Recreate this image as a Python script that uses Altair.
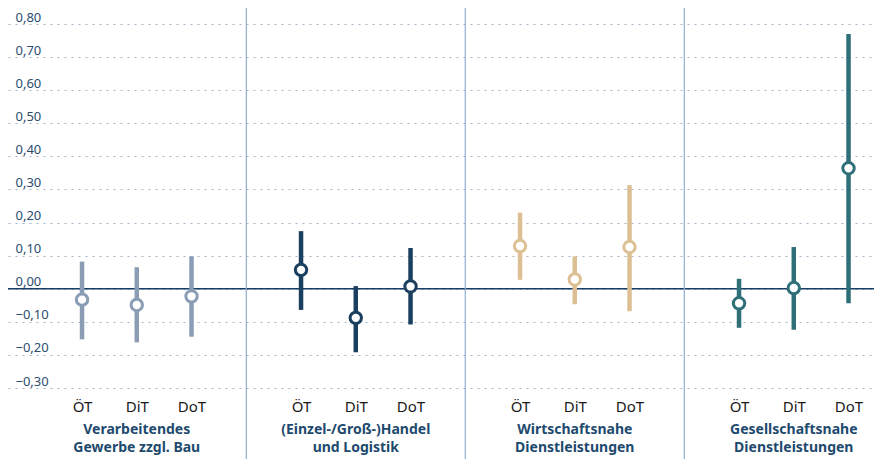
import altair as alt
import pandas as pd

# ---- data ----
group_ids = ["VG", "HL", "WD", "GD"]
group_labels = [
    "Verarbeitendes\nGewerbe zzgl. Bau",
    "(Einzel-/Groß-)Handel\nund Logistik",
    "Wirtschaftsnahe\nDienstleistungen",
    "Gesellschaftsnahe\nDienstleistungen",
]
types = ["ÖT", "DiT", "DoT"]
estimate = [
    [-0.033, -0.049, -0.023],
    [0.057, -0.088, 0.007],
    [0.129, 0.028, 0.126],
    [-0.044, 0.002, 0.364],
]
lower = [
    [-0.153, -0.162, -0.145],
    [-0.064, -0.192, -0.108],
    [0.027, -0.047, -0.068],
    [-0.118, -0.124, -0.044],
]
upper = [
    [0.082, 0.065, 0.098],
    [0.174, 0.008, 0.123],
    [0.230, 0.098, 0.313],
    [0.030, 0.126, 0.770],
]
colors = ["#8a9db5", "#1b3f5f", "#dcc093", "#2e6f78"]
y_ticks = [-0.3, -0.2, -0.1, 0.0, 0.1, 0.2, 0.3, 0.4, 0.5, 0.6, 0.7, 0.8]

# ---- build tables ----
rows = []
domain = []
spacers = []
for gi, g in enumerate(group_ids):
    for ti, t in enumerate(types):
        key = f"{g}|{t}"
        domain.append(key)
        rows.append(dict(key=key, group=g, type=t,
                         est=estimate[gi][ti], lo=lower[gi][ti], hi=upper[gi][ti]))
    if gi < len(group_ids) - 1:
        s = f"s{gi + 1}"
        domain.append(s)
        spacers.append(s)
df = pd.DataFrame(rows)
sep_df = pd.DataFrame({"key": spacers})
lab_df = pd.DataFrame({"key": [f"{g}|DiT" for g in group_ids], "label": group_labels})
zero_df = pd.DataFrame({"y": [0.0]})

FONT = "Noto Sans"

x_scale = alt.Scale(domain=domain, type="point", padding=0.9087, align=0.744)
y_scale = alt.Scale(domain=[-0.3, 0.8], nice=False, zero=False)
color_scale = alt.Scale(domain=group_ids, range=colors)

x_axis = alt.Axis(
    labelExpr="indexof(datum.label,'|')>=0 ? split(datum.label,'|')[1] : ''",
    ticks=False, domain=False, grid=False, labelAngle=0,
    labelFontSize=15, labelColor="#1a1a1a", labelFont=FONT,
    labelPadding=11, labelOverlap=False,
)
y_axis = alt.Axis(
    values=y_ticks, labelExpr="replace(format(datum.value, '.2f'), '.', ',')",
    ticks=False, tickSize=0, domain=False, grid=True,
    gridDash=[2, 5], gridColor="#a3b5c9", gridWidth=1,
    labelAlign="left", labelBaseline="alphabetic", labelOffset=-3,
    labelPadding=-7, labelFontSize=13, labelFont=FONT,
    labelColor="#2a4d6e", labelOverlap=False, labelBound=False,
    labelFlush=False,
)


def X():
    return alt.X("key:N", scale=x_scale, sort=domain, title=None, axis=x_axis)


def Y(field):
    return alt.Y(field, scale=y_scale, title=None, axis=y_axis)


base = alt.Chart(df)

rules = base.mark_rule(strokeWidth=4.5).encode(
    x=X(),
    y=Y("lo:Q"),
    y2="hi:Q",
    color=alt.Color("group:N", scale=color_scale, legend=None),
)

zero = alt.Chart(zero_df).mark_rule(color="#173f64", strokeWidth=1.4).encode(
    y=Y("y:Q")
)

points = base.mark_point(filled=True, fill="white", size=130, strokeWidth=3, opacity=1).encode(
    x=X(),
    y=Y("est:Q"),
    stroke=alt.Stroke("group:N", scale=color_scale, legend=None),
)

seps = alt.Chart(sep_df).mark_rule(color="#8eaed0", strokeWidth=1.2).encode(
    x=X(),
    y=alt.value(-16),
    y2=alt.value(435),
)

glabels = alt.Chart(lab_df).mark_text(
    font=FONT, fontSize=14, fontWeight="bold", color="#1e4a6e",
    baseline="top", align="center", lineBreak="\n", lineHeight=18,
).encode(
    x=X(),
    y=alt.value(399),
    text="label:N",
)

chart = alt.layer(zero, seps, rules, points, glabels).properties(
    width=866, height=364,
    padding={"left": 0, "top": 16, "right": 0, "bottom": 71},
    autosize=alt.AutoSizeParams(type="none"),
).configure_view(stroke=None).configure_axis(labelOverlap=False)

chart.save("out.html", embed_options={"renderer": "svg", "actions": False})
